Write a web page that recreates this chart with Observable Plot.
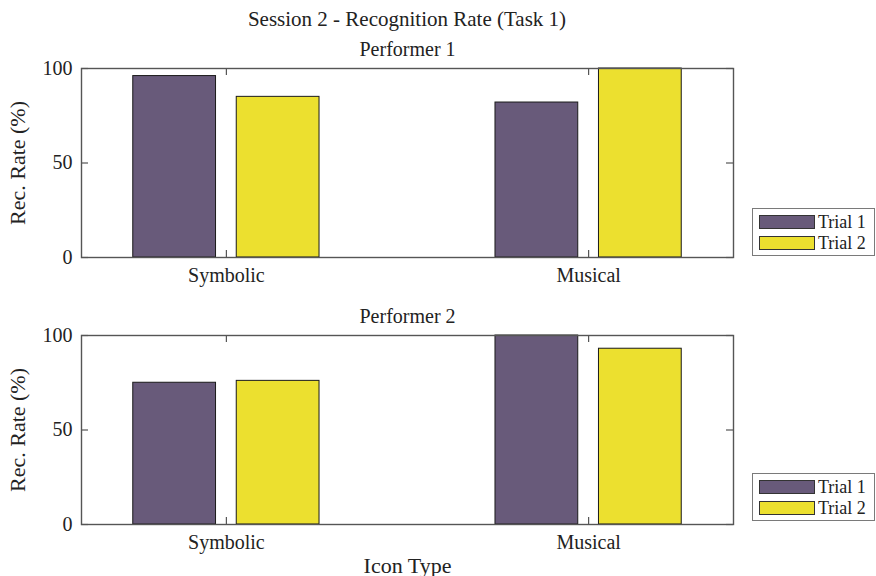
<!DOCTYPE html>
<html>
<head>
<meta charset="utf-8">
<script src="https://cdn.jsdelivr.net/npm/d3@7"></script>
<script src="https://cdn.jsdelivr.net/npm/@observablehq/plot@0.6"></script>
<style>
  html, body { margin: 0; padding: 0; background: #fff; }
  #root { position: relative; width: 876px; height: 576px; overflow: hidden; font-family: "Liberation Serif", "Times New Roman", serif; color: #222; }
  .abs { position: absolute; }
  .title { left: 0; width: 814px; text-align: center; font-size: 21px; line-height: 21px; white-space: nowrap; }
  .legend { border: 1px solid #7a7a7a; background: #fff; box-sizing: border-box; }
  .sw { position: absolute; box-sizing: border-box; border: 1px solid #333; }
  .lt { position: absolute; font-size: 18px; line-height: 14px; white-space: nowrap; }
</style>
</head>
<body>
<div id="root"></div>
<script>
const mainTitle = "Session 2 - Recognition Rate (Task 1)";
const categories = ["Symbolic", "Musical"];
const trials = ["Trial 1", "Trial 2"];
const panelTitles = ["Performer 1", "Performer 2"];
const perf1Trial1 = [96, 82];
const perf1Trial2 = [85, 100];
const perf2Trial1 = [75, 100];
const perf2Trial2 = [76, 93];
const yTicks = [0, 50, 100];
const yLabel = "Rec. Rate (%)";
const xLabel = "Icon Type";
const colors = ["#685a7a", "#ece02f"];

const W = 876, ML = 81, MR = 143;
const FW = W - ML - MR;
const FH = 189;
// bar offsets (in category units) for each trial within the group
const barOffsets = [[-0.2571, -0.0286], [0.0286, 0.2571]];

const root = document.getElementById("root");

const t = document.createElement("div");
t.className = "abs title";
t.style.top = "9px";
t.textContent = mainTitle;
root.appendChild(t);

function panel(title, s1, s2, top, height, mt, mb, withXLabel) {
  const rows = [];
  categories.forEach((c, i) => {
    [s1, s2].forEach((s, k) => {
      rows.push({cat: c, pos: i + 1, trial: trials[k], k, value: s[i]});
    });
  });
  const marks = [
    Plot.rectY(rows, {
      x1: d => d.pos + barOffsets[d.k][0],
      x2: d => d.pos + barOffsets[d.k][1],
      y1: 0, y2: "value",
      fill: "trial", stroke: "#1a1a1a", strokeWidth: 1
    }),
    Plot.frame({stroke: "#555", strokeWidth: 1.4}),
    Plot.tickY(yTicks, {y: d => d, insetRight: FW - 7, stroke: "#555", strokeWidth: 1.2}),
    Plot.tickY(yTicks, {y: d => d, insetLeft: FW - 7, stroke: "#555", strokeWidth: 1.2}),
    Plot.tickX([1, 2], {x: d => d, insetTop: FH - 7, stroke: "#555", strokeWidth: 1.2}),
    Plot.tickX([1, 2], {x: d => d, insetBottom: FH - 7, stroke: "#555", strokeWidth: 1.2}),
    Plot.axisY({ticks: yTicks, tickSize: 0, tickPadding: 9, label: null, fontSize: 20, fill: "#222"}),
    Plot.axisX({ticks: [1, 2], tickFormat: i => categories[i - 1], tickSize: 0, tickPadding: 10, label: null, fontSize: 20, fill: "#222"}),
    Plot.text([title], {frameAnchor: "top", lineAnchor: "bottom", dy: -13, text: d => d, fontSize: 20, fill: "#222"}),
    Plot.text([yLabel], {frameAnchor: "left", textAnchor: "middle", rotate: -90, lineAnchor: "bottom", dx: -57, text: d => d, fontSize: 22, fill: "#222"})
  ];
  if (withXLabel) {
    marks.push(Plot.text([xLabel], {frameAnchor: "bottom", lineAnchor: "bottom", dy: 48, text: d => d, fontSize: 22, fill: "#222"}));
  }
  const svg = Plot.plot({
    width: W, height,
    marginLeft: ML, marginRight: MR, marginTop: mt, marginBottom: mb,
    style: {fontFamily: "Liberation Serif, Times New Roman, serif", fontSize: "20px", background: "transparent", overflow: "visible"},
    x: {type: "linear", domain: [0.6, 2.4]},
    y: {domain: [0, 100]},
    color: {domain: trials, range: colors},
    marks
  });
  svg.classList.add("abs");
  svg.style.left = "0px";
  svg.style.top = top + "px";
  root.appendChild(svg);
}

function legend(boxTop) {
  const box = document.createElement("div");
  box.className = "abs legend";
  box.style.left = "752px";
  box.style.top = boxTop + "px";
  box.style.width = "123px";
  box.style.height = "48px";
  trials.forEach((tr, k) => {
    const sw = document.createElement("div");
    sw.className = "sw";
    sw.style.left = "6px";
    sw.style.top = (6 + k * 21) + "px";
    sw.style.width = "56px";
    sw.style.height = "14px";
    sw.style.background = colors[k];
    box.appendChild(sw);
    const lt = document.createElement("div");
    lt.className = "lt";
    lt.style.left = "65px";
    lt.style.top = (6 + k * 21) + "px";
    lt.textContent = tr;
    box.appendChild(lt);
  });
  root.appendChild(box);
}

panel(panelTitles[0], perf1Trial1, perf1Trial2, 30, 270, 38, 43, false);
panel(panelTitles[1], perf2Trial1, perf2Trial2, 300, 276, 35, 52, true);
legend(208);
legend(473);
</script>
</body>
</html>
